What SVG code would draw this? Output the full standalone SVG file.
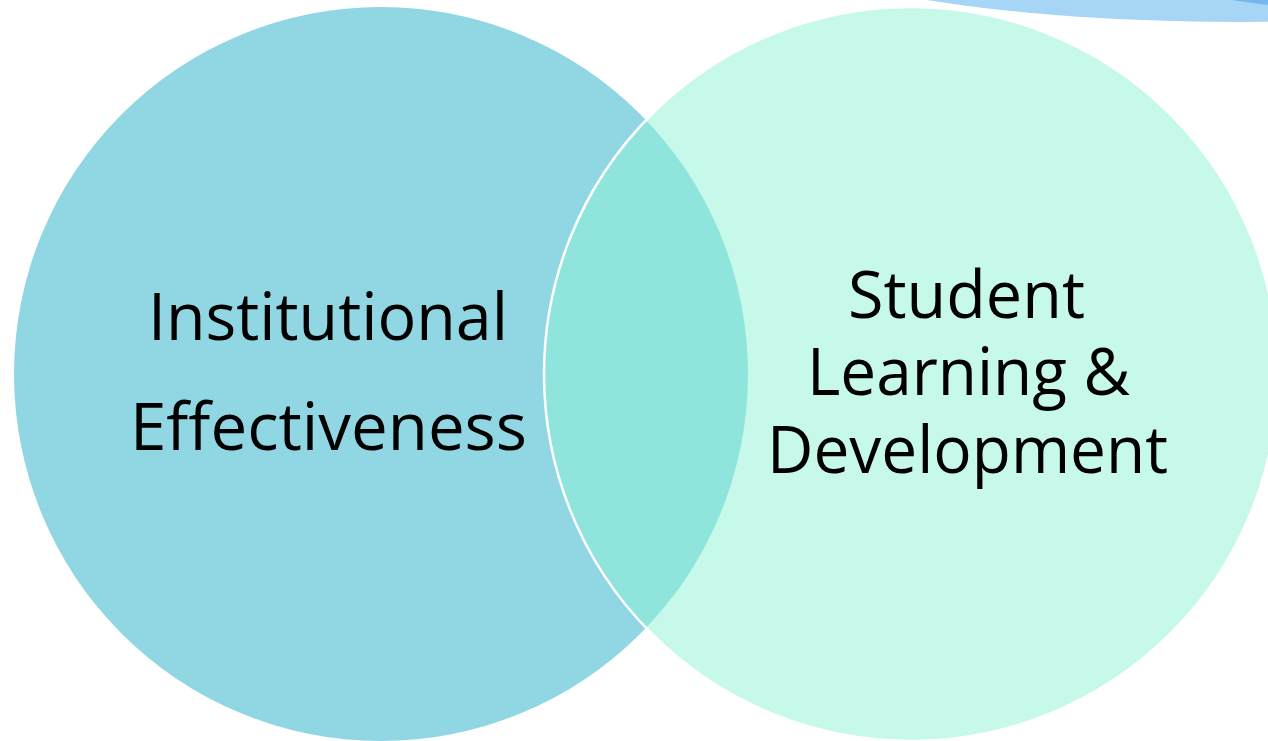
<svg xmlns="http://www.w3.org/2000/svg" width="1268" height="741" viewBox="0 0 1268 741">
<style>
.lbl{font-family:"Open Sans","Noto Sans","Liberation Sans",sans-serif;font-size:66px;fill:#000}
</style>
<rect width="1268" height="741" fill="#ffffff"/>
<g id="deco">
<ellipse cx="1240" cy="-78" rx="500" ry="100" fill="#A6D5F5"/>
<path d="M1232,0 Q1252,3 1268,5 L1268,0 Z" fill="#72B8EE"/>
</g>
<g id="node-institutional">
<circle cx="381" cy="374" r="367" fill="#91D7E3"/>
</g>
<g id="node-student">
<circle cx="911" cy="374" r="367" fill="#8DF3D5" fill-opacity="0.5" stroke="#ffffff" stroke-width="2.5"/>
</g>
<g id="connectors"></g>
<g id="labels">
<text class="lbl" x="148" y="340" textLength="360" lengthAdjust="spacingAndGlyphs">Institutional</text>
<text class="lbl" x="130" y="450" textLength="397" lengthAdjust="spacingAndGlyphs">Effectiveness</text>
<text class="lbl" x="848" y="318" textLength="237" lengthAdjust="spacingAndGlyphs">Student</text>
<text class="lbl" x="807" y="395" textLength="323" lengthAdjust="spacingAndGlyphs">Learning &amp;</text>
<text class="lbl" x="767" y="473" textLength="401" lengthAdjust="spacingAndGlyphs">Development</text>
</g>
</svg>
